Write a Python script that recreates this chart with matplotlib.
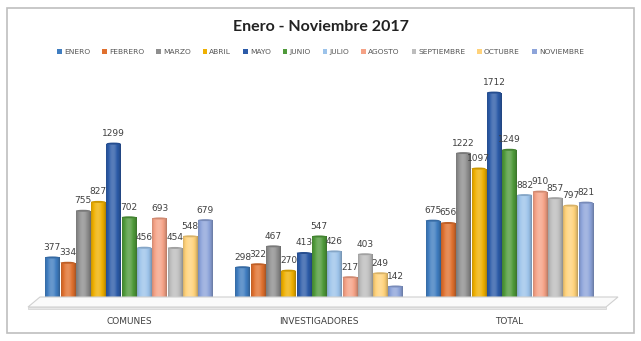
import numpy as np
import matplotlib
matplotlib.use("Agg")
import matplotlib.pyplot as plt
from matplotlib.patches import Rectangle, Polygon, Ellipse
from matplotlib.colors import to_rgb

categories = ["COMUNES", "INVESTIGADORES", "TOTAL"]
months = ["ENERO", "FEBRERO", "MARZO", "ABRIL", "MAYO", "JUNIO", "JULIO",
          "AGOSTO", "SEPTIEMBRE", "OCTUBRE", "NOVIEMBRE"]
comunes = [377, 334, 755, 827, 1299, 702, 456, 693, 454, 548, 679]
investigadores = [298, 322, 467, 270, 413, 547, 426, 217, 403, 249, 142]
total = [675, 656, 1222, 1097, 1712, 1249, 882, 910, 857, 797, 821]
colors = ["#3F7DC0", "#E0702E", "#8E8E8E", "#EFB000", "#2C5BA8", "#4F9A3A",
          "#9CC3EA", "#F5A286", "#BDBDBD", "#FFD27A", "#8DA4DA"]

data = np.array([comunes, investigadores, total])

fig = plt.figure(figsize=(6.41, 3.41), dpi=100)
W, H = 641, 341

def fx(px):
    return px / W

def fy(py):
    return 1 - py / H

# frame
fig.patches.append(Rectangle((fx(7), fy(333)), fx(634) - fx(7), fy(8) - fy(333),
                             transform=fig.transFigure, fill=False,
                             edgecolor="#BFBFBF", lw=1.2))

# floor (3D-like plate)
floor = Polygon([(fx(28), fy(307)), (fx(606), fy(307)), (fx(618), fy(297)),
                 (fx(40), fy(297))], closed=True, transform=fig.transFigure,
                facecolor="#FAFAFA", edgecolor="#D0D0D0", lw=0.8)
fig.patches.append(floor)
fig.patches.append(Rectangle((fx(28), fy(309)), fx(606) - fx(28), fy(307) - fy(309),
                             transform=fig.transFigure, facecolor="#E6E6E6",
                             edgecolor="#D0D0D0", lw=0.5))

ax = fig.add_axes([fx(30), fy(304), fx(612) - fx(30), fy(80) - fy(304)])
ax.set_xlim(-0.52, 2.54)
ax.set_ylim(0, (304 - 80) / 0.1235)
ax.axis("off")

n = len(months)
group_w = 0.885
bw = group_w / n
x = np.arange(len(categories))

grad = np.linspace(0, 1, 64)
shade = 0.55 + 0.75 * np.sin(np.pi * np.clip(grad * 1.1 - 0.05, 0, 1)) ** 0.6
shade = shade - 0.35 * grad ** 3

for i, (m, c) in enumerate(zip(months, colors)):
    offs = x - group_w / 2 + (i + 0.5) * bw
    bars = ax.bar(offs, data[:, i], width=bw * 0.93, color=c, label=m,
                  edgecolor="none", zorder=2)
    base = np.array(to_rgb(c))
    img = np.zeros((1, 64, 3))
    for k in range(64):
        s = shade[k]
        if s >= 1:
            col = base + (1 - base) * min(s - 1, 1) * 0.8
        else:
            col = base * (0.7 + 0.3 * s)
        img[0, k] = np.clip(col, 0, 1)
    for b, v in zip(bars, data[:, i]):
        x0 = b.get_x()
        w = b.get_width()
        im = ax.imshow(img, extent=(x0, x0 + w, 0, v), aspect="auto",
                       zorder=3, interpolation="bilinear")
        im.set_clip_path(b)
        # top cap
        cap = Ellipse((x0 + w / 2, v), w, 16, transform=ax.transData,
                      facecolor=np.clip(base * 0.85, 0, 1), edgecolor="none",
                      zorder=4)
        ax.add_patch(cap)
        ax.text(x0 + w / 2, v + 45, f"{v}", ha="center", va="bottom",
                fontsize=6.5, color="#404040", zorder=5)

for xi, cat in zip(x, categories):
    fig.text(fx(30) + (xi + 0.52) / 3.06 * (fx(612) - fx(30)), fy(321), cat,
             ha="center", va="center", fontsize=6.5, color="#404040")

fig.text(0.5, fy(27), "Enero - Noviembre 2017", ha="center", va="center",
         fontsize=11.5, fontweight="bold", color="#222222", family="Lato")

handles, labels = ax.get_legend_handles_labels()
leg = fig.legend(handles, labels, loc="center", bbox_to_anchor=(0.5, fy(52)),
                 ncol=n, frameon=False, fontsize=5.4, handlelength=0.6,
                 handleheight=0.6, handletextpad=0.3, columnspacing=1.6,
                 labelcolor="#555555")

fig.savefig("out.png", dpi=100, facecolor="white")
